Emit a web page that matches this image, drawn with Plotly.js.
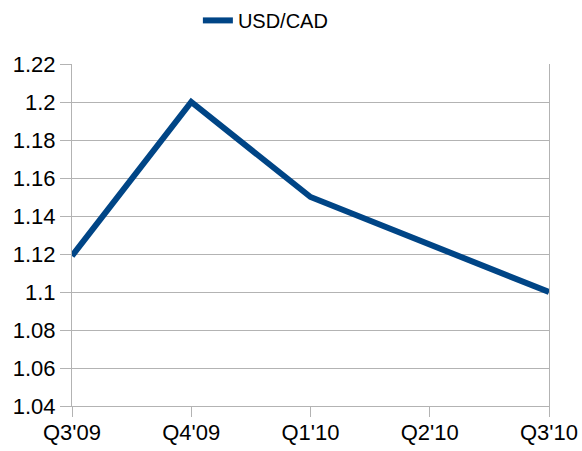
<!DOCTYPE html>
<html><head><meta charset="utf-8">
<script src="https://cdn.plot.ly/plotly-3.0.1.min.js"></script>
<style>html,body{margin:0;padding:0;background:#fff}#chart{width:582px;height:451px}</style>
</head><body><div id="chart"></div>
<script>
const categories = ["Q3'09", "Q4'09", "Q1'10", "Q2'10", "Q3'10"];
const usdCad = [1.119, 1.2, 1.15, 1.125, 1.1];
const seriesName = "USD/CAD";
const yTicks = [1.04, 1.06, 1.08, 1.1, 1.12, 1.14, 1.16, 1.18, 1.2, 1.22];
const yTickText = ["1.04", "1.06", "1.08", "1.1", "1.12", "1.14", "1.16", "1.18", "1.2", "1.22"];

Plotly.newPlot('chart', [{
  x: categories, y: usdCad, type: 'scatter', mode: 'lines', name: seriesName,
  line: {color: '#004586', width: 6}
}], {
  width: 582, height: 451,
  margin: {l: 72, r: 33, t: 64, b: 45},
  paper_bgcolor: '#fff', plot_bgcolor: '#fff',
  font: {family: 'Liberation Sans, Arial, sans-serif', size: 22, color: '#000'},
  showlegend: true,
  legend: {orientation: 'h', x: 0.34, xref: 'container', xanchor: 'left', y: 0.998, yref: 'container', yanchor: 'top',
           font: {size: 20}, itemwidth: 30},
  xaxis: {type: 'category', range: [0, 4], showgrid: false, showline: true, linecolor: '#b3b3b3', linewidth: 1,
          ticks: 'outside', ticklen: 10, tickcolor: '#b3b3b3', zeroline: false, fixedrange: true,
          ticklabelstandoff: -3},
  yaxis: {range: [1.04, 1.22], tickvals: yTicks, ticktext: yTickText, showgrid: true, gridcolor: '#b3b3b3',
          showline: true, mirror: true, linecolor: '#b3b3b3', linewidth: 1, ticks: 'outside', ticklen: 11,
          tickcolor: '#b3b3b3', zeroline: false, fixedrange: true}
}, {displayModeBar: false, staticPlot: true});
</script></body></html>
